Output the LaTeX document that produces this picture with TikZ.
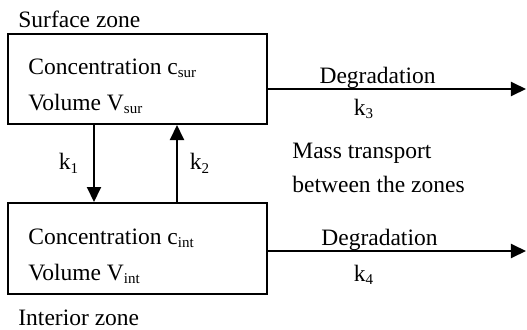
\documentclass[tikz,border=0pt]{standalone}
\usepackage{fontspec}
\setmainfont{Liberation Serif}
\usetikzlibrary{arrows.meta, positioning, calc}
\newcommand{\zsub}[1]{\raisebox{-0.35ex}{\fontsize{7.5}{8}\selectfont #1}}

\begin{document}
\begin{tikzpicture}[
  x=0.5pt, y=0.5pt,
  zone/.style={draw, line width=1pt, minimum width=129.5pt, minimum height=45pt, inner sep=0pt},
  boxtxt/.style={align=left, inner sep=0pt, font=\fontsize{11.75}{18}\selectfont},
  lbl/.style={inner sep=0pt, font=\fontsize{11.75}{17}\selectfont},
  arrow/.style={-{Triangle[length=7.5pt, width=7pt]}, line width=1pt}
]
\useasboundingbox (0,0) rectangle (527,329);

% the two zones
\node[zone] (surf) at (137.5,250) {};
\node[zone, minimum height=45.5pt] (inter) at (137.5,80.5) {};
\node[lbl, anchor=base west] (surflbl) at (18,301.5) {Surface zone};
\node[lbl, anchor=base west] (interlbl) at (18,3.5) {Interior zone};
\node[boxtxt, anchor=base west] (surftxt) at (28,219) {Concentration c\zsub{sur}\\Volume V\zsub{sur}};
\node[boxtxt, anchor=base west] (intertxt) at (28,49) {Concentration c\zsub{int}\\Volume V\zsub{int}};

% exchange between the zones
\draw[arrow] ([xshift=43.5pt]surf.south west) -- node[lbl, left=7.5pt]{k\zsub{1}} ([xshift=43.5pt]inter.north west);
\draw[arrow] ([xshift=85pt]inter.north west) -- node[lbl, right=6pt]{k\zsub{2}} ([xshift=85pt]surf.south west);
\node[lbl, align=left, anchor=base west] (masstxt) at (292,137) {Mass transport\\between the zones};

% degradation
\coordinate (sink3) at (526,240);
\coordinate (sink4) at (526,78);
\draw[arrow] (surf.east |- sink3) -- node[lbl, pos=.425, anchor=base, yshift=3pt]{Degradation}
  node[lbl, pos=.37, anchor=base, yshift=-13pt]{k\zsub{3}} (sink3);
\draw[arrow] (inter.east |- sink4) -- node[lbl, pos=.432, anchor=base, yshift=3pt]{Degradation}
  node[lbl, pos=.37, anchor=base, yshift=-15pt]{k\zsub{4}} (sink4);
\end{tikzpicture}
\end{document}
